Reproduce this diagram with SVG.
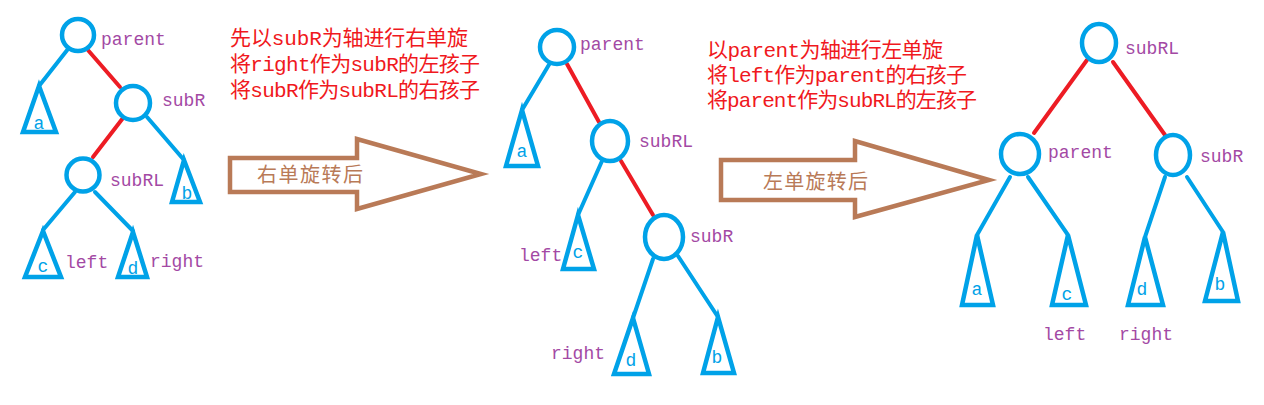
<svg xmlns="http://www.w3.org/2000/svg" width="1264" height="405" viewBox="0 0 1264 405">
<style>
.bg{fill:#ffffff}
.edge{stroke:#00A2E8;stroke-width:4;fill:none;stroke-linecap:round}
.red{stroke:#ED1C24;stroke-width:4;fill:none;stroke-linecap:round}
.node{fill:none;stroke:#00A2E8;stroke-width:4.5}
.tri{fill:none;stroke:#00A2E8;stroke-width:4.5;stroke-linejoin:miter}
.lbl{font-family:"Liberation Mono",monospace;font-size:18px;fill:#A349A4}
.leaf{font-family:"Liberation Mono",monospace;font-size:18px;fill:#00A2E8;text-anchor:middle}
.note{font-family:"Liberation Mono","Noto Sans CJK SC",monospace;font-size:21px;fill:#F01820}
.arrow{fill:#ffffff;stroke:#B97A57;stroke-width:4.5;stroke-linejoin:miter}
.atxt{font-family:"Noto Sans CJK SC",sans-serif;font-size:20px;fill:#B97A57}
</style>
<rect class="bg" x="0" y="0" width="1264" height="405"/>

<g id="connectors">
  <!-- left tree -->
  <line class="edge" x1="68" y1="49" x2="39" y2="86"/>
  <line class="red" x1="87" y1="49" x2="120" y2="87"/>
  <line class="red" x1="123" y1="118" x2="93" y2="157"/>
  <line class="edge" x1="147" y1="117" x2="184" y2="160"/>
  <line class="edge" x1="75" y1="192" x2="43" y2="230"/>
  <line class="edge" x1="95" y1="192" x2="133" y2="231"/>
  <!-- middle tree -->
  <line class="edge" x1="550" y1="63" x2="522" y2="110"/>
  <line class="red" x1="567" y1="64" x2="599" y2="122"/>
  <line class="edge" x1="602" y1="161" x2="578" y2="215"/>
  <line class="red" x1="621" y1="161" x2="653" y2="215"/>
  <line class="edge" x1="653" y1="259" x2="633" y2="318"/>
  <line class="edge" x1="678" y1="256" x2="718" y2="317"/>
  <!-- right tree -->
  <line class="red" x1="1087" y1="60" x2="1034" y2="133"/>
  <line class="red" x1="1113" y1="62" x2="1165" y2="135"/>
  <line class="edge" x1="1010" y1="177" x2="977" y2="235"/>
  <line class="edge" x1="1028" y1="177" x2="1068" y2="235"/>
  <line class="edge" x1="1165" y1="177" x2="1145" y2="237"/>
  <line class="edge" x1="1187" y1="177" x2="1223" y2="232"/>
</g>

<!-- left tree nodes -->
<g id="L-parent"><circle class="node" cx="78" cy="35" r="16"/><text class="lbl" x="101" y="45">parent</text></g>
<g id="L-subR"><circle class="node" cx="133" cy="103" r="17"/><text class="lbl" x="162" y="106">subR</text></g>
<g id="L-subRL"><circle class="node" cx="83" cy="175" r="16.5"/><text class="lbl" x="110" y="186">subRL</text></g>
<g id="L-a"><polygon class="tri" points="39,86 23,132 56,132"/><text class="leaf" x="39" y="129">a</text></g>
<g id="L-b"><polygon class="tri" points="184,160 172,202 200,202"/><text class="leaf" x="187" y="199">b</text></g>
<g id="L-c"><polygon class="tri" points="43,231 25,277 61,277"/><text class="leaf" x="43" y="272">c</text></g>
<g id="L-d"><polygon class="tri" points="133,232 118,277 147,277"/><text class="leaf" x="133" y="274">d</text></g>
<g id="L-left"><text class="lbl" x="65" y="268">left</text></g>
<g id="L-right"><text class="lbl" x="150" y="267">right</text></g>

<!-- note 1 -->
<g id="note1">
  <text class="note" x="230" y="45" textLength="238" lengthAdjust="spacing">先以subR为轴进行右单旋</text>
  <text class="note" x="230" y="71" textLength="250" lengthAdjust="spacing">将right作为subR的左孩子</text>
  <text class="note" x="230" y="97" textLength="250" lengthAdjust="spacing">将subR作为subRL的右孩子</text>
</g>

<!-- arrow 1 -->
<g id="arrow1">
  <polygon class="arrow" points="230,158 357,158 357,139 481,174 357,209 357,192 230,192"/>
  <text class="atxt" x="257" y="182" textLength="106" lengthAdjust="spacing">右单旋转后</text>
</g>

<!-- middle tree nodes -->
<g id="M-parent"><circle class="node" cx="557" cy="47" r="17"/><text class="lbl" x="580" y="50">parent</text></g>
<g id="M-subRL"><ellipse class="node" cx="610" cy="141" rx="18" ry="20"/><text class="lbl" x="639" y="147">subRL</text></g>
<g id="M-subR"><ellipse class="node" cx="664" cy="237" rx="19" ry="22"/><text class="lbl" x="690" y="242">subR</text></g>
<g id="M-a"><polygon class="tri" points="522,110 506,166 538,166"/><text class="leaf" x="522" y="157">a</text></g>
<g id="M-c"><polygon class="tri" points="578,215 563,269 594,269"/><text class="leaf" x="578" y="258">c</text></g>
<g id="M-d"><polygon class="tri" points="633,318 614,374 649,374"/><text class="leaf" x="631" y="366">d</text></g>
<g id="M-b"><polygon class="tri" points="718,317 703,373 734,373"/><text class="leaf" x="717" y="363">b</text></g>
<g id="M-left"><text class="lbl" x="519" y="261">left</text></g>
<g id="M-right"><text class="lbl" x="551" y="359">right</text></g>

<!-- note 2 -->
<g id="note2">
  <text class="note" x="707" y="57" textLength="236" lengthAdjust="spacing">以parent为轴进行左单旋</text>
  <text class="note" x="707" y="82" textLength="260" lengthAdjust="spacing">将left作为parent的右孩子</text>
  <text class="note" x="707" y="107" textLength="270" lengthAdjust="spacing">将parent作为subRL的左孩子</text>
</g>

<!-- arrow 2 -->
<g id="arrow2">
  <polygon class="arrow" points="721,160 855,160 855,141 989,180 855,217 855,200 721,200"/>
  <text class="atxt" x="763" y="189" textLength="105" lengthAdjust="spacing">左单旋转后</text>
</g>

<!-- right tree nodes -->
<g id="R-subRL"><ellipse class="node" cx="1099" cy="43" rx="17" ry="19"/><text class="lbl" x="1125" y="54">subRL</text></g>
<g id="R-parent"><ellipse class="node" cx="1020" cy="154" rx="19" ry="20"/><text class="lbl" x="1048" y="158">parent</text></g>
<g id="R-subR"><ellipse class="node" cx="1173" cy="155" rx="17" ry="20"/><text class="lbl" x="1200" y="162">subR</text></g>
<g id="R-a"><polygon class="tri" points="977,235 962,305 993,305"/><text class="leaf" x="977" y="295">a</text></g>
<g id="R-c"><polygon class="tri" points="1068,235 1052,305 1086,305"/><text class="leaf" x="1067" y="300">c</text></g>
<g id="R-d"><polygon class="tri" points="1145,237 1128,305 1163,305"/><text class="leaf" x="1142" y="295">d</text></g>
<g id="R-b"><polygon class="tri" points="1223,232 1205,301 1238,301"/><text class="leaf" x="1220" y="290">b</text></g>
<g id="R-left"><text class="lbl" x="1043" y="340">left</text></g>
<g id="R-right"><text class="lbl" x="1119" y="340">right</text></g>
</svg>
